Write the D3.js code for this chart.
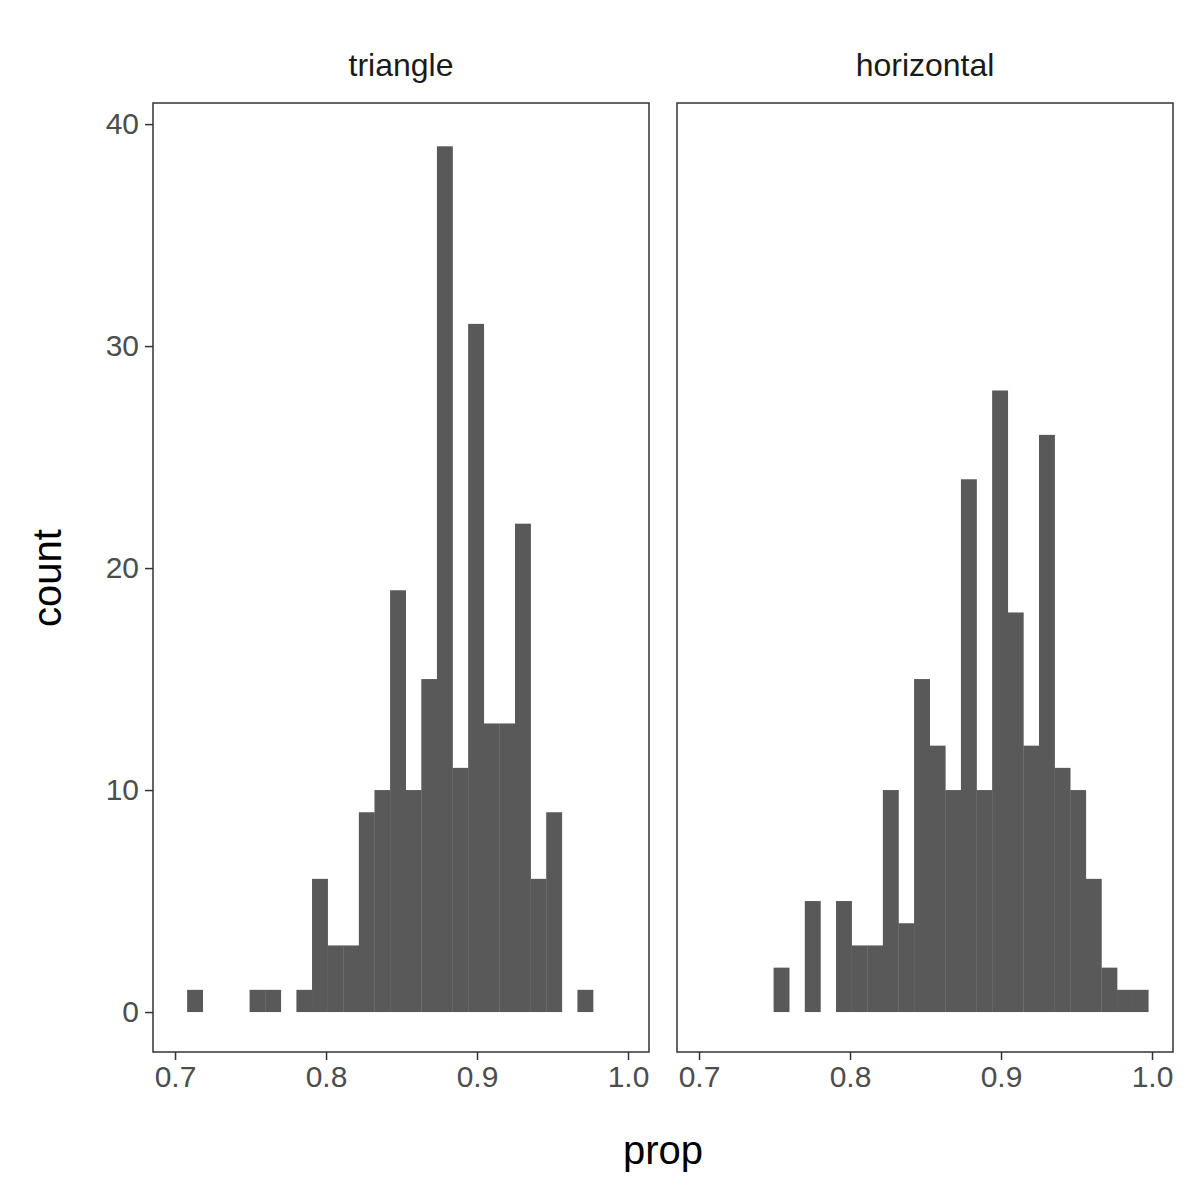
<!DOCTYPE html>
<html><head><meta charset="utf-8">
<script src="https://cdn.jsdelivr.net/npm/d3@7/dist/d3.min.js"></script>
<style>body{margin:0;background:#fff}</style></head>
<body><svg id="c" width="1200" height="1200"></svg>
<script>
const binStart = 0.708, binWidth = 0.01034;
const panels = ["triangle", "horizontal"];
const triangleCounts = [1,0,0,0,1,1,0,1,6,3,3,9,10,19,10,15,39,11,31,13,13,22,6,9,0,1];
const horizontalCounts = [0,0,0,0,2,0,5,0,5,3,3,10,4,15,12,10,24,10,28,18,12,26,11,10,6,2,1,1];
const xTicks = [0.7,0.8,0.9,1.0];
const yTicks = [0,10,20,30,40];
const seriesList = [triangleCounts, horizontalCounts];

const svg = d3.select("#c");
const font = "Liberation Sans, Arial, sans-serif";
const panelX = [[153,649],[677,1173]];
const pTop = 103, pBottom = 1052;
const y = d3.scaleLinear().domain([-1.8, 40.95]).range([pBottom, pTop]);

panels.forEach((name, p) => {
  const [x0, x1] = panelX[p];
  const x = d3.scaleLinear().domain([0.6854, 1.0139]).range([x0, x1]);
  const g = svg.append("g");
  const bins = seriesList[p].map((c, i) => ({c, a: binStart + i*binWidth, b: binStart + (i+1)*binWidth})).filter(d => d.c > 0);
  g.selectAll("rect.bar").data(bins).enter().append("rect")
    .attr("x", d => x(d.a)).attr("width", d => x(d.b) - x(d.a) + 0.3)
    .attr("y", d => y(d.c)).attr("height", d => y(0) - y(d.c))
    .attr("fill", "#595959");
  g.append("rect").attr("x", x0).attr("y", pTop).attr("width", x1-x0).attr("height", pBottom-pTop)
    .attr("fill", "none").attr("stroke", "#333").attr("stroke-width", 1.5);
  const xa = g.append("g").attr("transform", `translate(0,${pBottom})`)
    .call(d3.axisBottom(x).tickValues(xTicks).tickFormat(d3.format(".1f")).tickSize(8).tickPadding(6));
  xa.select(".domain").remove();
  xa.selectAll("line").attr("stroke", "#333").attr("stroke-width", 1.5);
  xa.selectAll("text").attr("font-family", font).attr("font-size", 30).attr("fill", "#4d4d4d");
  g.append("text").attr("x", (x0+x1)/2).attr("y", 76).attr("text-anchor", "middle")
    .attr("font-family", font).attr("font-size", 32).attr("fill", "#1a1a1a").text(name);
  if (p === 0) {
    const ya = g.append("g").attr("transform", `translate(${x0},0)`)
      .call(d3.axisLeft(y).tickValues(yTicks).tickSize(8).tickPadding(6));
    ya.select(".domain").remove();
    ya.selectAll("line").attr("stroke", "#333").attr("stroke-width", 1.5);
    ya.selectAll("text").attr("font-family", font).attr("font-size", 30).attr("fill", "#4d4d4d");
  }
});
svg.append("text").attr("x", 663).attr("y", 1164).attr("text-anchor", "middle")
  .attr("font-family", font).attr("font-size", 40).text("prop");
svg.append("text").attr("transform", "translate(61,578) rotate(-90)").attr("text-anchor", "middle")
  .attr("font-family", font).attr("font-size", 40).text("count");
</script></body></html>
